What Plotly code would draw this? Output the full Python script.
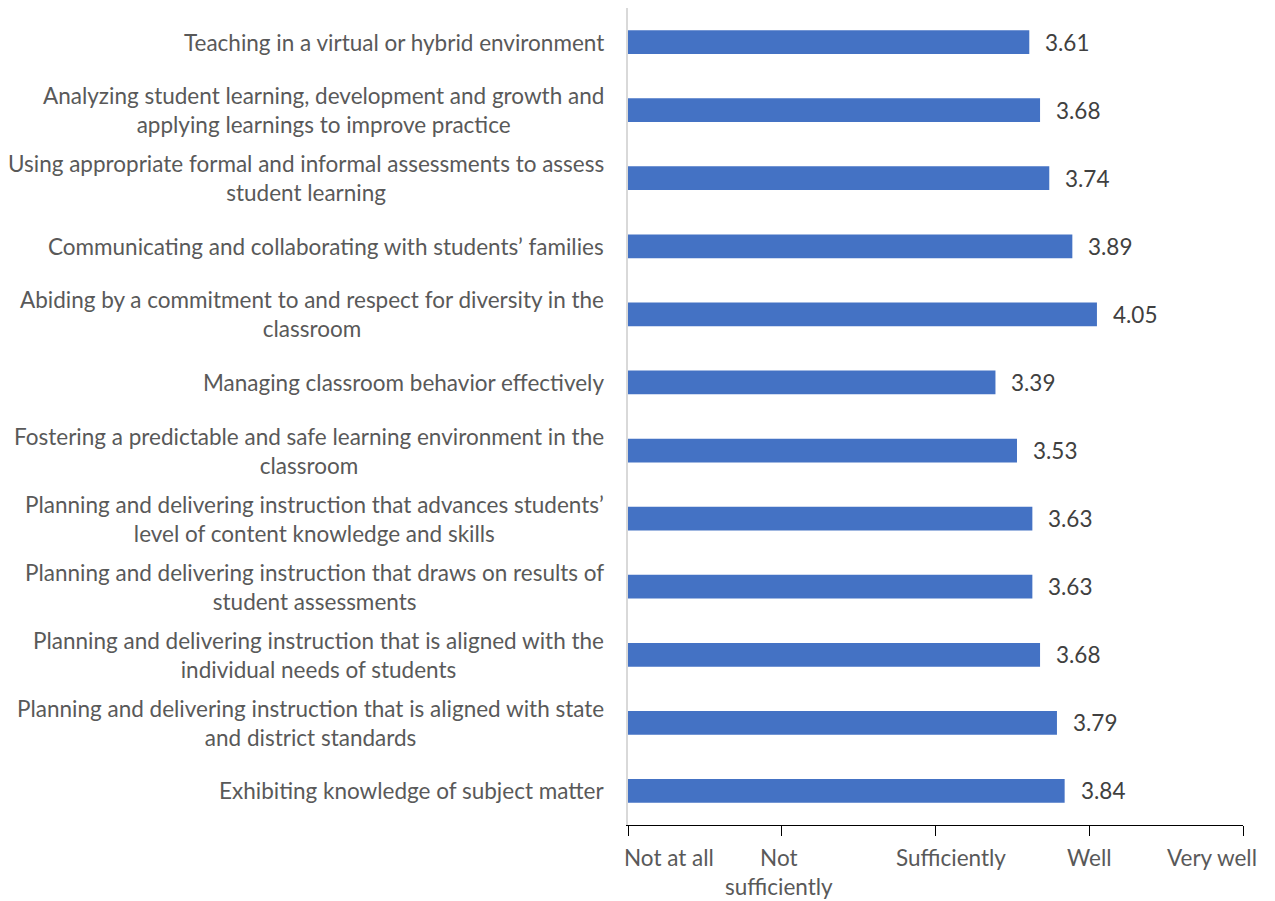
import plotly.graph_objects as go

# Survey items (top to bottom) and mean ratings on a 1-5 scale
categories = [
    "Teaching in a virtual or hybrid environment",
    "Analyzing student learning, development and growth and<br>applying learnings to improve practice",
    "Using appropriate formal and informal assessments to assess<br>student learning",
    "Communicating and collaborating with students’ families",
    "Abiding by a commitment to and respect for diversity in the<br>classroom",
    "Managing classroom behavior effectively",
    "Fostering a predictable and safe learning environment in the<br>classroom",
    "Planning and delivering instruction that advances students’<br>level of content knowledge and skills",
    "Planning and delivering instruction that draws on results of<br>student assessments",
    "Planning and delivering instruction that is aligned with the<br>individual needs of students",
    "Planning and delivering instruction that is aligned with state<br>and district standards",
    "Exhibiting knowledge of subject matter",
]
values = [3.61, 3.68, 3.74, 3.89, 4.05, 3.39, 3.53, 3.63, 3.63, 3.68, 3.79, 3.84]

scale_values = [1, 2, 3, 4, 5]
scale_labels = ["Not at all", "Not<br>sufficiently", "Sufficiently", "Well", "Very well"]
# horizontal nudges so the outer scale labels stay inside the page
scale_label_shift = [41, -3, 15, 0, -31]

FONT = "Lato"
SIZE = 22.5
TEXT = "#595959"
VALUE_TEXT = "#404040"
BAR = "#4472C4"

# bars start at the scale minimum (1), so each bar's length is value - 1
fig = go.Figure(
    go.Bar(
        x=[v - 1 for v in values],
        y=categories,
        base=1,
        orientation="h",
        marker=dict(color=BAR, line=dict(width=0)),
        hoverinfo="skip",
    )
)

annotations = []
for cat, v in zip(categories, values):
    # category label: centred lines, block right-aligned against the axis
    annotations.append(dict(
        x=0, xref="paper", y=cat, yref="y", text=cat, showarrow=False,
        xanchor="right", yanchor="middle", align="center", xshift=-22,
        font=dict(family=FONT, size=SIZE, color=TEXT),
    ))
    # value label just past the end of the bar
    annotations.append(dict(
        x=v, xref="x", y=cat, yref="y", text=f"{v:.2f}", showarrow=False,
        xanchor="left", yanchor="middle", xshift=14,
        font=dict(family=FONT, size=SIZE, color=VALUE_TEXT),
    ))

for sv, lab, dx in zip(scale_values, scale_labels, scale_label_shift):
    annotations.append(dict(
        x=sv, xref="x", y=0, yref="paper", text=lab, showarrow=False,
        xanchor="center", yanchor="top", align="center", xshift=dx, yshift=-17,
        font=dict(family=FONT, size=SIZE, color=TEXT),
    ))

fig.update_layout(
    width=1275, height=901,
    margin=dict(l=628, r=32, t=8, b=76),
    paper_bgcolor="white", plot_bgcolor="white",
    bargap=0.65,
    showlegend=False,
    annotations=annotations,
    xaxis=dict(
        range=[1, 5], tickvals=scale_values, showticklabels=False,
        showgrid=False, zeroline=False,
        showline=True, linecolor="#000000", linewidth=1,
        ticks="outside", ticklen=10, tickcolor="#000000", tickwidth=1,
    ),
    yaxis=dict(
        categoryorder="array", categoryarray=categories, autorange="reversed",
        showticklabels=False, showgrid=False, zeroline=False,
        showline=True, linecolor="#D9D9D9", linewidth=1.5, ticks="",
    ),
)

fig.write_html("out.html")
